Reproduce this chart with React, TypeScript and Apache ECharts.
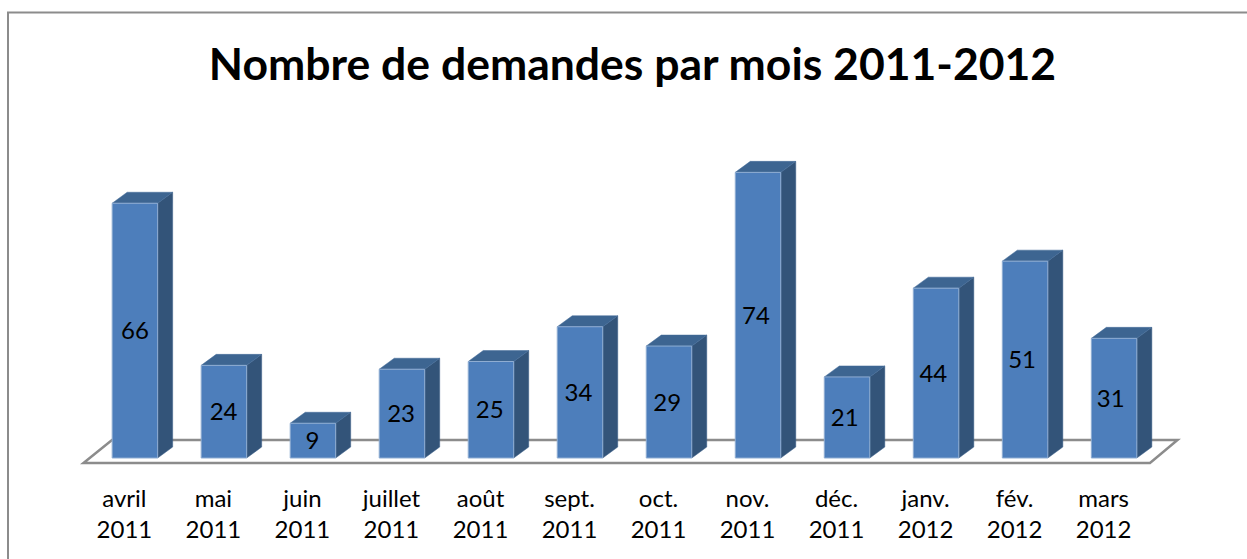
import React, { useEffect, useRef } from "react";
import * as echarts from "echarts";

const title = "Nombre de demandes par mois 2011-2012";
const categories = [
  "avril\n2011", "mai\n2011", "juin\n2011", "juillet\n2011", "août\n2011", "sept.\n2011",
  "oct.\n2011", "nov.\n2011", "déc.\n2011", "janv.\n2012", "fév.\n2012", "mars\n2012",
];
const demandes = [66, 24, 9, 23, 25, 34, 29, 74, 21, 44, 51, 31];

const FONT = "Lato, Carlito, sans-serif";
const DX = 15;
const DY = -11;
const BAR_W = 45.5;

function renderBar(params: any, api: any) {
  const idx = api.value(0);
  const val = api.value(1);
  const top = api.coord([idx, val]);
  const base = api.coord([idx, 0]);
  const l = top[0] - BAR_W / 2;
  const r = top[0] + BAR_W / 2;
  const t = top[1];
  const b = base[1];
  return {
    type: "group",
    children: [
      {
        type: "polygon",
        shape: { points: [[r, t], [r + DX, t + DY], [r + DX, b + DY], [r, b]] },
        style: { fill: "#335479", stroke: "#3a5f88", lineWidth: 0.5 },
      },
      {
        type: "polygon",
        shape: { points: [[l, t], [l + DX, t + DY], [r + DX, t + DY], [r, t]] },
        style: { fill: "#3d6591", stroke: "#436b98", lineWidth: 0.5 },
      },
      {
        type: "rect",
        shape: { x: l, y: t, width: BAR_W, height: b - t },
        style: { fill: "#4d7ebb", stroke: "#8fadd2", lineWidth: 1 },
      },
      {
        type: "text",
        style: {
          x: top[0] - idx * 0.3,
          y: (t + b) / 2 - 1,
          text: String(val),
          font: `24px ${FONT}`,
          fill: "#000",
          align: "center",
          verticalAlign: "middle",
        },
      },
    ],
  };
}

export default function App() {
  const ref = useRef<HTMLDivElement>(null);
  useEffect(() => {
    const chart = echarts.init(ref.current!, null, { renderer: "svg" });
    chart.setOption({
      animation: false,
      backgroundColor: "#fff",
      title: {
        text: title,
        left: 627.5,
        top: 35,
        textAlign: "center",
        textStyle: { fontFamily: FONT, fontSize: 44.5, fontWeight: "bold", color: "#000" },
      },
      grid: { left: 90.4, width: 1068.2, top: 149.2, height: 308.8 },
      xAxis: {
        type: "category",
        data: categories,
        axisLine: { show: false },
        axisTick: { show: false },
        axisLabel: {
          fontFamily: FONT,
          fontSize: 24,
          color: "#000",
          lineHeight: 31,
          margin: 24,
          interval: 0,
          padding: [0, 21, 0, 0],
        },
      },
      yAxis: { type: "value", min: 0, max: 80, show: false },
      graphic: [
        {
          type: "polyline",
          silent: true,
          z: 0,
          shape: { points: [[8, 559], [8, 12.5], [1247, 12.5]] },
          style: { stroke: "#8c8c8c", lineWidth: 2, fill: "none" },
        },
        {
          type: "polygon",
          silent: true,
          z: 0,
          shape: { points: [[83.5, 463], [112, 440], [1177.5, 440], [1150, 463]] },
          style: { stroke: "#8c8c8c", lineWidth: 2.5, fill: "#fff" },
        },
      ],
      series: [
        {
          type: "custom",
          z: 5,
          renderItem: renderBar,
          encode: { x: 0, y: 1 },
          data: demandes.map((v, i) => [i, v]),
        },
      ],
    });
    return () => chart.dispose();
  }, []);
  return <div ref={ref} style={{ position: "fixed", left: 0, top: 0, width: 1247, height: 559 }} />;
}
